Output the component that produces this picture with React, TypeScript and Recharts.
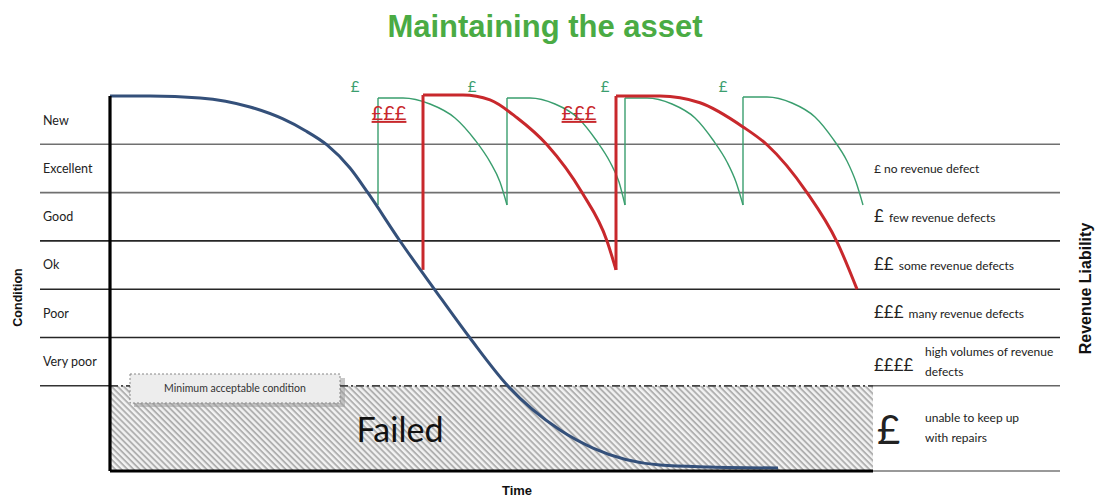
import React from "react";
import {
  ComposedChart,
  Line,
  XAxis,
  YAxis,
  ReferenceArea,
  ReferenceLine,
  ReferenceDot,
} from "recharts";

type Pt = { t: number; v: number };

// condition scale: 7 = as new, 1 = minimum acceptable, below 1 = failed
const conditionNames = ["New", "Excellent", "Good", "Ok", "Poor", "Very poor"];
const conditionTops = [7, 6, 5, 4, 3, 2];
const gridLevels = [6, 5, 4, 3, 2];
const minAcceptable = 1;
const failedFloor = -0.764;
const failedEnd = 76.3;
const timeStart = -7;
const timeEnd = 95;
const conditionCeil = 7.248;

const revenueSymbols = ["£", "£", "££", "£££", "££££", "£"];
const revenueNotes = [
  ["no revenue defect"],
  ["few revenue defects"],
  ["some revenue defects"],
  ["many revenue defects"],
  ["high volumes of  revenue", "defects"],
  ["unable to keep up", "with repairs"],
];
const revenueTops = [6, 5, 4, 3, 2, 1];

// left alone
const noMaintenance: Pt[] = [
  { t: 0, v: 7 },
  { t: 4, v: 7 },
  { t: 9, v: 6.959 },
  { t: 14, v: 6.772 },
  { t: 17.3, v: 6.524 },
  { t: 19.5, v: 6.286 },
  { t: 21.7, v: 5.986 },
  { t: 24, v: 5.509 },
  { t: 25.8, v: 4.992 },
  { t: 29, v: 3.998 },
  { t: 32.5, v: 2.983 },
  { t: 36, v: 1.99 },
  { t: 39.8, v: 0.996 },
  { t: 45, v: 0.085 },
  { t: 48.3, v: -0.288 },
  { t: 55, v: -0.64 },
  { t: 60, v: -0.681 },
  { t: 66.8, v: -0.702 },
];

// big renewals (£££)
const majorCycles: Pt[][] = [
  [
    { t: 31.3, v: 7.02 },
    { t: 35.3, v: 7.02 },
    { t: 38, v: 6.92 },
    { t: 40.7, v: 6.55 },
    { t: 43.7, v: 5.99 },
    { t: 47.2, v: 5 },
    { t: 49.7, v: 4 },
    { t: 50.6, v: 3.4 },
  ],
  [
    { t: 50.6, v: 7 },
    { t: 55, v: 7 },
    { t: 59, v: 6.86 },
    { t: 63.3, v: 6.36 },
    { t: 65.7, v: 5.99 },
    { t: 69.7, v: 5 },
    { t: 72.7, v: 3.98 },
    { t: 74.7, v: 3 },
  ],
];
const majorFrom = [3.4, 3.4];

// small regular repairs (£)
const minorCycles: Pt[][] = [
  [
    { t: 26.8, v: 6.959 },
    { t: 29.3, v: 6.959 },
    { t: 32, v: 6.834 },
    { t: 34.5, v: 6.545 },
    { t: 36.5, v: 6.089 },
    { t: 38, v: 5.634 },
    { t: 39, v: 5.219 },
    { t: 39.7, v: 4.743 },
  ],
  [
    { t: 39.7, v: 6.959 },
    { t: 42, v: 6.959 },
    { t: 44.5, v: 6.834 },
    { t: 46.8, v: 6.545 },
    { t: 48.6, v: 6.089 },
    { t: 50, v: 5.634 },
    { t: 50.9, v: 5.219 },
    { t: 51.5, v: 4.743 },
  ],
  [
    { t: 51.5, v: 6.959 },
    { t: 53.7, v: 6.959 },
    { t: 56.2, v: 6.834 },
    { t: 58.5, v: 6.545 },
    { t: 60.3, v: 6.089 },
    { t: 61.7, v: 5.634 },
    { t: 62.6, v: 5.219 },
    { t: 63.3, v: 4.743 },
  ],
  [
    { t: 63.3, v: 6.979 },
    { t: 65.7, v: 6.979 },
    { t: 68.2, v: 6.855 },
    { t: 70.5, v: 6.565 },
    { t: 72.3, v: 6.11 },
    { t: 73.7, v: 5.654 },
    { t: 74.6, v: 5.219 },
    { t: 75.3, v: 4.743 },
  ],
];
const minorFrom = [4.743, 4.743, 4.743, 4.743];

const minorMarks = [24.5, 36.2, 49.5, 61.3];
const majorMarks = [27.9, 46.9];

const NARROW = "Lato, 'Open Sans', sans-serif";
const BOLD = "'Liberation Sans', Arial, sans-serif";
const BLUE = "#34507a";
const RED = "#c8282c";
const GREEN = "#3a9e6e";

function RevenueLabel({ viewBox, row }: { viewBox: any; row: number }) {
  const { x, y, height } = viewBox;
  const cy = y + height / 2;
  const sym = revenueSymbols[row];
  const notes = revenueNotes[row];
  if (notes.length === 1) {
    const symSize = row === 0 ? 12 : 17;
    return (
      <text x={x + 1} y={cy + 5} fontFamily={NARROW} fill="#222">
        <tspan fontSize={symSize}>{sym}</tspan>
        <tspan fontSize={12} dx={row === 0 ? 3 : 5}>
          {notes[0]}
        </tspan>
      </text>
    );
  }
  const last = row === revenueSymbols.length - 1;
  return (
    <g fontFamily={NARROW} fill="#222">
      <text x={x + (last ? 4 : 1)} y={cy + (last ? 16 : 9)} fontSize={last ? 40 : 17}>
        {sym}
      </text>
      <text x={x + 52} y={cy - 6} fontSize={12}>
        {notes[0]}
      </text>
      <text x={x + 52} y={cy + 14} fontSize={12}>
        {notes[1]}
      </text>
    </g>
  );
}

export default function App() {
  return (
    <div style={{ position: "absolute", left: 0, top: 0, width: 1097, height: 497, background: "#fff" }}>
      <div
        style={{
          position: "absolute",
          left: 0,
          top: 9,
          width: 1090,
          textAlign: "center",
          fontFamily: BOLD,
          fontWeight: 700,
          fontSize: 31,
          lineHeight: "36px",
          color: "#4aab44",
        }}
      >
        Maintaining the asset
      </div>
      <ComposedChart width={1097} height={497} margin={{ top: 84, right: 0, bottom: 0, left: 0 }}>
        <defs>
          <pattern id="hatch" patternUnits="userSpaceOnUse" width="4.3" height="4.3" patternTransform="rotate(45)">
            <rect width="4.3" height="4.3" fill="#f2f2f2" />
            <rect width="4.3" height="1.9" fill="#b0b0b0" />
          </pattern>
        </defs>
        <XAxis
          type="number"
          dataKey="t"
          domain={[timeStart, timeEnd]}
          allowDataOverflow
          tick={false}
          tickLine={false}
          axisLine={false}
          height={26}
          label={{ value: "Time", position: "center", dx: -33, dy: 6, fontSize: 13, fontWeight: 700, fill: "#111", fontFamily: BOLD }}
        />
        <YAxis
          type="number"
          domain={[failedFloor, conditionCeil]}
          allowDataOverflow
          tick={false}
          tickLine={false}
          axisLine={false}
          width={40}
          label={{ value: "Condition", angle: -90, position: "center", dx: -2, dy: 20, fontSize: 12.5, fontWeight: 700, fill: "#111", fontFamily: BOLD }}
        />
        <YAxis
          yAxisId="rev"
          orientation="right"
          type="number"
          domain={[failedFloor, conditionCeil]}
          allowDataOverflow
          tick={false}
          tickLine={false}
          axisLine={false}
          width={37}
          label={{ value: "Revenue Liability", angle: -90, position: "center", dx: 6.5, dy: 11, fontSize: 16, fontWeight: 700, fill: "#111", fontFamily: BOLD }}
        />

        <ReferenceArea x1={0} x2={failedEnd} y1={failedFloor} y2={minAcceptable} fill="url(#hatch)" fillOpacity={1} stroke="none" />

        {gridLevels.map((lv) => (
          <ReferenceLine key={lv} y={lv} stroke={lv >= 5 ? "#707070" : "#262626"} strokeWidth={1.6} />
        ))}
        <ReferenceLine segment={[{ x: timeStart, y: minAcceptable }, { x: 0, y: minAcceptable }]} stroke="#333" strokeWidth={1.6} />
        <ReferenceLine
          segment={[{ x: 0, y: minAcceptable }, { x: 2, y: minAcceptable }]}
          stroke="#444"
          strokeWidth={1.8}
          strokeDasharray="8 3 2 3"
        />
        <ReferenceLine
          segment={[{ x: 23, y: minAcceptable }, { x: failedEnd, y: minAcceptable }]}
          stroke="#444"
          strokeWidth={1.8}
          strokeDasharray="8 3 2 3"
        />
        <ReferenceLine segment={[{ x: failedEnd, y: minAcceptable }, { x: timeEnd, y: minAcceptable }]} stroke="#666" strokeWidth={1.6} />
        <ReferenceLine segment={[{ x: failedEnd, y: failedFloor }, { x: timeEnd, y: failedFloor }]} stroke="#777" strokeWidth={1.6} />

        <ReferenceArea x1={2.4} x2={23.5} y1={0.56} y2={1.16} fill="#9a9a9a" fillOpacity={0.55} stroke="none" />
        <ReferenceArea
          x1={2}
          x2={23}
          y1={0.644}
          y2={1.244}
          fill="#ededed"
          fillOpacity={1}
          stroke="#888"
          strokeDasharray="2 2"
          label={{ value: "Minimum acceptable condition", position: "center", fontSize: 10.5, fill: "#333", fontFamily: NARROW }}
        />

        {conditionNames.map((name, i) => (
          <ReferenceArea
            key={name}
            x1={timeStart}
            x2={0}
            y1={conditionTops[i] - 1}
            y2={conditionTops[i]}
            fillOpacity={0}
            stroke="none"
            label={{ value: name, position: "insideLeft", offset: 3, fontSize: 12.5, fill: "#222", fontFamily: NARROW }}
          />
        ))}

        {revenueSymbols.map((s, i) => (
          <ReferenceArea
            key={"rev" + i}
            x1={failedEnd}
            x2={timeEnd}
            y1={i === revenueSymbols.length - 1 ? failedFloor : revenueTops[i] - 1}
            y2={revenueTops[i]}
            fillOpacity={0}
            stroke="none"
            label={(p: any) => <RevenueLabel viewBox={p.viewBox} row={i} />}
          />
        ))}

        <ReferenceDot
          x={29}
          y={0.09}
          r={0}
          fill="none"
          stroke="none"
          label={{ value: "Failed", position: "center", fontSize: 34, fill: "#111", fontFamily: NARROW }}
        />
        {minorMarks.map((t) => (
          <ReferenceDot
            key={"m" + t}
            x={t}
            y={7.19}
            r={0}
            fill="none"
            stroke="none"
            label={{ value: "£", position: "center", fontSize: 15, fill: GREEN, fontFamily: NARROW }}
          />
        ))}
        {majorMarks.map((t) => (
          <ReferenceDot
            key={"M" + t}
            x={t}
            y={6.65}
            r={0}
            fill="none"
            stroke="none"
            label={(p: any) => (
              <text
                x={p.viewBox.x}
                y={p.viewBox.y + 7}
                textAnchor="middle"
                fontSize={20}
                fill={RED}
                fontFamily={NARROW}
                style={{ textDecoration: "underline" }}
              >
                £££
              </text>
            )}
          />
        ))}

        {minorCycles.map((arc, i) => (
          <Line
            key={"minor" + i}
            data={arc}
            dataKey="v"
            type="monotone"
            stroke={GREEN}
            strokeWidth={1.4}
            dot={false}
            isAnimationActive={false}
          />
        ))}
        {minorCycles.map((arc, i) => (
          <Line
            key={"minorJump" + i}
            data={[{ t: arc[0].t, v: minorFrom[i] }, arc[0]]}
            dataKey="v"
            type="linear"
            stroke={GREEN}
            strokeWidth={1.4}
            dot={false}
            isAnimationActive={false}
          />
        ))}
        {majorCycles.map((arc, i) => (
          <Line
            key={"major" + i}
            data={arc}
            dataKey="v"
            type="monotone"
            stroke={RED}
            strokeWidth={3}
            dot={false}
            isAnimationActive={false}
          />
        ))}
        {majorCycles.map((arc, i) => (
          <Line
            key={"majorJump" + i}
            data={[{ t: arc[0].t, v: majorFrom[i] }, arc[0]]}
            dataKey="v"
            type="linear"
            stroke={RED}
            strokeWidth={3}
            dot={false}
            isAnimationActive={false}
          />
        ))}
        <Line
          data={noMaintenance}
          dataKey="v"
          type="monotone"
          stroke={BLUE}
          strokeWidth={3}
          dot={false}
          isAnimationActive={false}
        />

        <ReferenceLine segment={[{ x: 0, y: failedFloor }, { x: failedEnd, y: failedFloor }]} stroke="#000" strokeWidth={3.2} />
        <ReferenceLine segment={[{ x: 0, y: failedFloor }, { x: 0, y: 7 }]} stroke="#000" strokeWidth={3.2} />
      </ComposedChart>
    </div>
  );
}
